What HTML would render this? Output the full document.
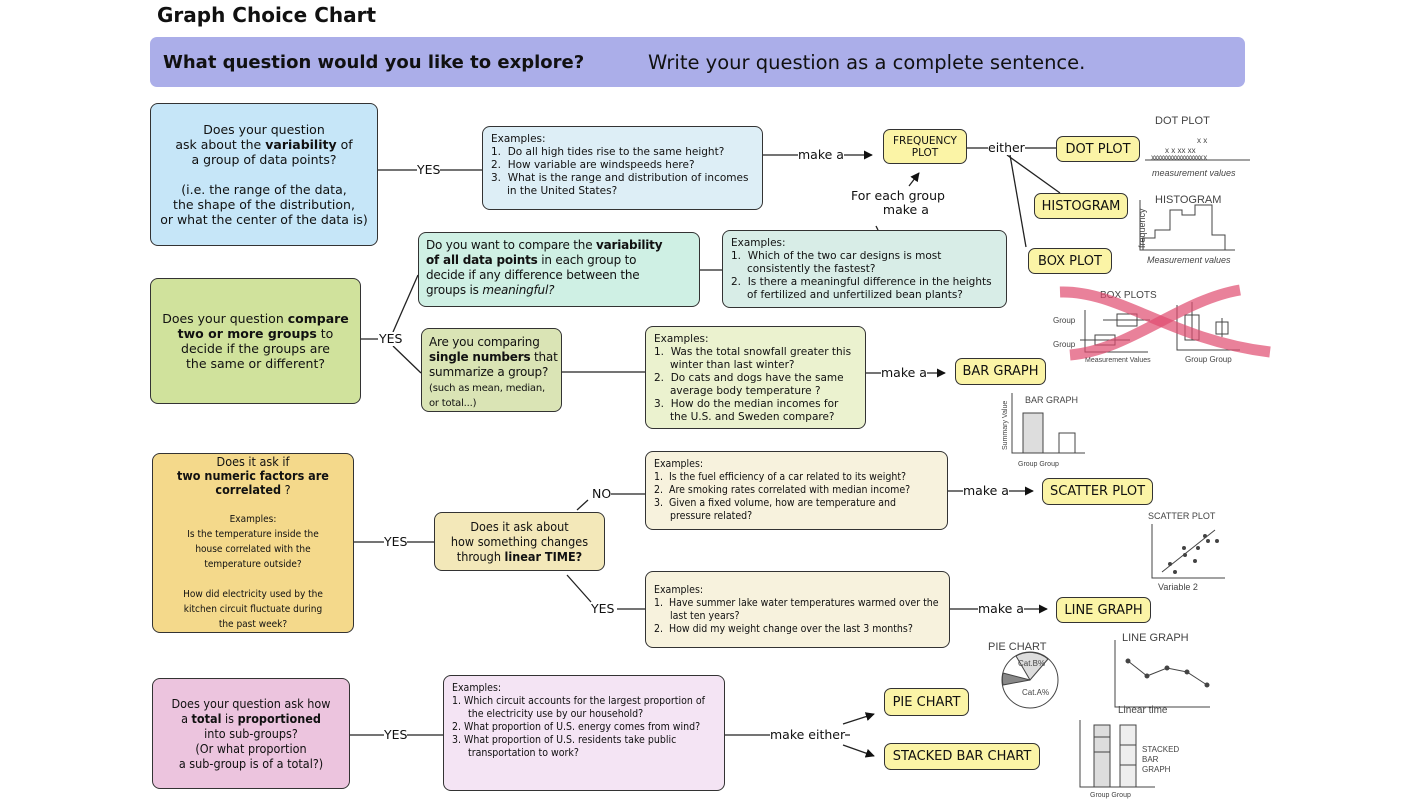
<!DOCTYPE html>
<html><head><meta charset="utf-8">
<style>
body{margin:0;width:1422px;height:800px;background:#fff;position:relative;overflow:hidden;font-family:"DejaVu Sans","Liberation Sans",sans-serif;color:#111}
.b{position:absolute;box-sizing:border-box;border:1.5px solid #333;border-radius:8px;font-size:12.5px;line-height:15px}
.c{text-align:center;display:flex;align-items:center;justify-content:center}
.c>div{width:100%;white-space:nowrap}
.ex{font-size:10.5px;line-height:13px;padding:6px 8px}
.ex div{padding-left:16px;text-indent:-16px}
.y{background:#fbf4a6;text-align:center;font-size:13px;display:flex;align-items:center;justify-content:center;border-radius:7px}
.cond{font-family:"DejaVu Sans Condensed","Liberation Sans Narrow","Liberation Sans",sans-serif}
.t{position:absolute;font-size:12.5px;white-space:nowrap;background:#fff;line-height:14px}
svg{position:absolute;left:0;top:0}
</style></head><body>
<svg width="1422" height="800" viewBox="0 0 1422 800" fill="none" stroke="#222" stroke-width="1.3">
<defs><marker id="a" viewBox="0 0 10 10" refX="9" refY="5" markerWidth="7" markerHeight="7" orient="auto"><path d="M0,0L10,5L0,10z" fill="#111" stroke="none"/></marker></defs>
<line x1="378" y1="170" x2="482" y2="170"/>
<line x1="763" y1="155" x2="872" y2="155" marker-end="url(#a)"/>
<line x1="967" y1="148" x2="1056" y2="148"/>
<line x1="1007" y1="155" x2="1060" y2="193"/>
<line x1="1010" y1="155" x2="1026" y2="247"/>
<line x1="909" y1="186" x2="919" y2="173" marker-end="url(#a)"/>
<line x1="878" y1="230" x2="876" y2="226"/>
<line x1="700" y1="270" x2="722" y2="270"/>
<line x1="361" y1="339" x2="378" y2="339"/>
<line x1="393" y1="332" x2="418" y2="275"/>
<line x1="393" y1="346" x2="421" y2="373"/>
<line x1="562" y1="372" x2="645" y2="372"/>
<line x1="866" y1="373" x2="945" y2="373" marker-end="url(#a)"/>
<line x1="354" y1="542" x2="434" y2="542"/>
<line x1="577" y1="510" x2="588" y2="500"/>
<line x1="610" y1="494" x2="645" y2="494"/>
<line x1="948" y1="491" x2="1033" y2="491" marker-end="url(#a)"/>
<line x1="567" y1="575" x2="591" y2="602"/>
<line x1="617" y1="609" x2="645" y2="609"/>
<line x1="950" y1="609" x2="1047" y2="609" marker-end="url(#a)"/>
<line x1="350" y1="735" x2="443" y2="735"/>
<line x1="725" y1="735" x2="850" y2="735"/>
<line x1="843" y1="724" x2="874" y2="714" marker-end="url(#a)"/>
<line x1="843" y1="745" x2="874" y2="756" marker-end="url(#a)"/>
<g stroke="#444" stroke-width="1" font-family="Liberation Sans,sans-serif">
<text x="1155" y="124" font-size="11" fill="#444" stroke="none">DOT PLOT</text>
<line x1="1145" y1="160" x2="1250" y2="160"/>
<text x="1151" y="160" font-size="8" fill="#444" stroke="none" letter-spacing="-1">xxxxxxxxxxxxxxxxx x</text>
<text x="1165" y="153" font-size="8" fill="#444" stroke="none">x  x xx xx</text>
<text x="1197" y="143" font-size="8" fill="#444" stroke="none">x x</text>
<text x="1152" y="176" font-size="9" fill="#444" stroke="none" font-style="italic">measurement values</text>
<text x="1155" y="203" font-size="11" fill="#444" stroke="none">HISTOGRAM</text>
<path d="M1140 200V250H1235M1143 250V238H1155V230H1170V210H1182V215H1195V205H1212V235H1225V250"/>
<text x="1147" y="263" font-size="9" fill="#444" stroke="none" font-style="italic">Measurement values</text>
<text transform="translate(1145,248) rotate(-90)" font-size="9" fill="#444" stroke="none">frequency</text>
<text x="1100" y="298" font-size="10" fill="#444" stroke="none">BOX PLOTS</text>
<path d="M1085 310V352H1148M1103 320H1150M1117 314h20v12h-20zM1080 340H1130M1095 335h20v10h-20z"/>
<path d="M1177 305V350H1240M1192 302V340M1185 315h14v25h-14zM1222 318V337M1216 322h12v12h-12z"/>
<text x="1053" y="323" font-size="8" fill="#444" stroke="none">Group</text>
<text x="1053" y="347" font-size="8" fill="#444" stroke="none">Group</text>
<text x="1085" y="362" font-size="7" fill="#444" stroke="none">Measurement Values</text>
<text x="1185" y="362" font-size="8" fill="#444" stroke="none">Group  Group</text>
<path d="M1060 292 C1120 290,1170 340,1270 352" stroke="#e04c6f" stroke-width="11" opacity="0.7"/>
<path d="M1070 355 C1130 350,1180 300,1240 290" stroke="#e04c6f" stroke-width="11" opacity="0.7"/>
<text x="1025" y="403" font-size="9" fill="#444" stroke="none">BAR GRAPH</text>
<path d="M1012 393V453H1085M1023 453V413H1043V453M1059 453V433H1075V453"/>
<rect x="1023" y="413" width="20" height="40" fill="#ddd"/>
<text x="1018" y="466" font-size="7" fill="#444" stroke="none">Group  Group</text>
<text transform="translate(1007,450) rotate(-90)" font-size="7" fill="#444" stroke="none">Summary Value</text>
<text x="1148" y="519" font-size="9" fill="#444" stroke="none">SCATTER PLOT</text>
<path d="M1152 524V578H1225M1162 572L1215 530"/>
<g fill="#444"><circle cx="1170" cy="564" r="1.5"/><circle cx="1175" cy="572" r="1.5"/><circle cx="1184" cy="548" r="1.5"/><circle cx="1185" cy="555" r="1.5"/><circle cx="1195" cy="561" r="1.5"/><circle cx="1198" cy="548" r="1.5"/><circle cx="1205" cy="536" r="1.5"/><circle cx="1208" cy="541" r="1.5"/><circle cx="1217" cy="541" r="1.5"/></g>
<text x="1158" y="590" font-size="9" fill="#444" stroke="none">Variable 2</text>
<text x="988" y="650" font-size="11" fill="#444" stroke="none">PIE CHART</text>
<circle cx="1030" cy="680" r="28" fill="#fff"/>
<path d="M1030 680L1048 659A28 28 0 0 0 1016 656z" fill="#ddd"/>
<path d="M1030 680L1003 673A28 28 0 0 0 1003 685z" fill="#888"/>
<text x="1018" y="666" font-size="8" fill="#444" stroke="none">Cat.B%</text>
<text x="1022" y="695" font-size="8" fill="#444" stroke="none">Cat.A%</text>
<text x="1122" y="641" font-size="11" fill="#444" stroke="none">LINE GRAPH</text>
<path d="M1115 640V707H1210M1128 661L1147 676L1167 668L1187 672L1207 685"/>
<g fill="#444"><circle cx="1128" cy="661" r="2"/><circle cx="1147" cy="676" r="2"/><circle cx="1167" cy="668" r="2"/><circle cx="1187" cy="672" r="2"/><circle cx="1207" cy="685" r="2"/></g>
<text x="1118" y="713" font-size="10" fill="#444" stroke="none">Linear time</text>
<path d="M1080 720V787H1155"/>
<rect x="1094" y="725" width="16" height="62" fill="#ddd"/><line x1="1094" y1="737" x2="1110" y2="737"/><line x1="1094" y1="752" x2="1110" y2="752"/>
<rect x="1120" y="725" width="16" height="62" fill="#eee"/><line x1="1120" y1="745" x2="1136" y2="745"/><line x1="1120" y1="765" x2="1136" y2="765"/>
<text x="1142" y="752" font-size="8" fill="#444" stroke="none">STACKED</text>
<text x="1142" y="762" font-size="8" fill="#444" stroke="none">BAR</text>
<text x="1142" y="772" font-size="8" fill="#444" stroke="none">GRAPH</text>
<text x="1090" y="797" font-size="7" fill="#444" stroke="none">Group  Group</text>
</g>
</svg>

<div style="position:absolute;left:157px;top:3px;font:bold 20px 'DejaVu Sans',sans-serif">Graph Choice Chart</div>
<div style="position:absolute;left:150px;top:37px;width:1095px;height:50px;background:#abaee9;border-radius:7px"></div>
<div style="position:absolute;left:163px;top:52px;font:bold 18px 'DejaVu Sans',sans-serif">What question would you like to explore?</div>
<div style="position:absolute;left:648px;top:51px;font:19.5px 'DejaVu Sans',sans-serif">Write your question as a complete sentence.</div>

<div class="b c" style="left:150px;top:103px;width:228px;height:143px;background:#c6e6f8;font-size:12.5px"><div>Does your question<br>ask about the <b>variability</b> of<br>a group of data points?<br><br>(i.e. the range of the data,<br>the shape of the distribution,<br>or what the center of the data is)</div></div>
<div class="t" style="left:417px;top:163px">YES</div>
<div class="b ex" style="left:482px;top:126px;width:281px;height:84px;background:#ddeef6">Examples:<div>1.&nbsp; Do all high tides rise to the same height?</div><div>2.&nbsp; How variable are windspeeds here?</div><div>3.&nbsp; What is the range and distribution of incomes in the United States?</div></div>
<div class="t" style="left:798px;top:148px">make a</div>
<div class="b y" style="left:883px;top:129px;width:84px;height:35px;font-size:10.5px;line-height:12px">FREQUENCY<br>PLOT</div>
<div class="t" style="left:988px;top:141px">either</div>
<div class="b y" style="left:1056px;top:136px;width:84px;height:26px">DOT PLOT</div>
<div class="b y" style="left:1034px;top:193px;width:94px;height:26px">HISTOGRAM</div>
<div class="b y" style="left:1028px;top:248px;width:84px;height:26px">BOX PLOT</div>
<div class="t" style="left:851px;top:189px;text-align:center;background:none">For each group<br>&nbsp;&nbsp;&nbsp;&nbsp;make a</div>

<div class="b c" style="left:150px;top:278px;width:211px;height:126px;background:#d0e29c;font-size:12.5px"><div>Does your question <b>compare</b><br><b>two or more groups</b> to<br>decide if the groups are<br>the same or different?</div></div>
<div class="t" style="left:379px;top:332px">YES</div>
<div class="b" style="left:418px;top:232px;width:282px;height:75px;background:#cff0e4;padding:5px 7px;font-size:12px;letter-spacing:-0.2px;white-space:nowrap">Do you want to compare the <b>variability</b><br><b>of all data points</b> in each group to<br>decide if any difference between the<br>groups is <i>meaningful?</i></div>
<div class="b ex" style="left:722px;top:230px;width:285px;height:78px;background:#d8ede7">Examples:<div>1.&nbsp; Which of the two car designs is most consistently the fastest?</div><div>2.&nbsp; Is there a meaningful difference in the heights of fertilized and unfertilized bean plants?</div></div>
<div class="b" style="left:421px;top:328px;width:141px;height:84px;background:#dae4b5;padding:6px 7px;font-size:12px;line-height:15px;letter-spacing:-0.2px;white-space:nowrap">Are you comparing<br><b>single numbers</b> that<br>summarize a group?<br><span style="font-size:10px;line-height:12px">(such as mean, median,<br>or total...)</span></div>
<div class="b ex" style="left:645px;top:326px;width:221px;height:103px;background:#ebf2cf">Examples:<div>1.&nbsp; Was the total snowfall greater this winter than last winter?</div><div>2.&nbsp; Do cats and dogs have the same average body temperature ?</div><div>3.&nbsp; How do the median incomes for the U.S. and Sweden compare?</div></div>
<div class="t" style="left:881px;top:366px">make a</div>
<div class="b y" style="left:955px;top:358px;width:91px;height:27px">BAR GRAPH</div>

<div class="b c cond" style="left:152px;top:453px;width:202px;height:180px;background:#f4d98b;font-size:12.5px;line-height:14px"><div>Does it ask if<br><b>two numeric factors are<br>correlated</b> ?<br><br><span style="font-size:10px;line-height:12px">Examples:<br>Is the temperature inside the<br>house correlated with the<br>temperature outside?<br><br>How did electricity used by the<br>kitchen circuit fluctuate during<br>the past week?</span></div></div>
<div class="t" style="left:384px;top:535px">YES</div>
<div class="b c cond" style="left:434px;top:512px;width:171px;height:59px;background:#f3e8b9;font-size:12.5px"><div>Does it ask about<br>how something changes<br>through <b>linear TIME?</b></div></div>
<div class="t" style="left:592px;top:487px">NO</div>
<div class="b ex cond" style="left:645px;top:451px;width:303px;height:79px;background:#f7f2dd;font-size:10.5px">Examples:<div>1.&nbsp; Is the fuel efficiency of a car related to its weight?</div><div>2.&nbsp; Are smoking rates correlated with median income?</div><div>3.&nbsp; Given a fixed volume, how are temperature and pressure related?</div></div>
<div class="t" style="left:963px;top:484px">make a</div>
<div class="b y" style="left:1042px;top:478px;width:111px;height:27px">SCATTER PLOT</div>
<div class="t" style="left:591px;top:602px">YES</div>
<div class="b ex cond" style="left:645px;top:571px;width:305px;height:77px;background:#f7f2dd;font-size:10.5px;padding-top:12px">Examples:<div>1.&nbsp; Have summer lake water temperatures warmed over the last ten years?</div><div>2.&nbsp; How did my weight change over the last 3 months?</div></div>
<div class="t" style="left:978px;top:602px">make a</div>
<div class="b y" style="left:1056px;top:597px;width:95px;height:26px">LINE GRAPH</div>

<div class="b c cond" style="left:152px;top:678px;width:198px;height:111px;background:#ecc4de;font-size:12.5px"><div>Does your question ask how<br>a <b>total</b> is <b>proportioned</b><br>into sub-groups?<br>(Or what proportion<br>a sub-group is of a total?)</div></div>
<div class="t" style="left:384px;top:728px">YES</div>
<div class="b ex cond" style="left:443px;top:675px;width:282px;height:116px;background:#f4e4f4;font-size:10.5px">Examples:<div>1. Which circuit accounts for the largest proportion of the electricity use by our household?</div><div>2. What proportion of U.S. energy comes from wind?</div><div>3. What proportion of U.S. residents take public transportation to work?</div></div>
<div class="t" style="left:770px;top:728px">make either</div>
<div class="b y" style="left:884px;top:688px;width:85px;height:28px">PIE CHART</div>
<div class="b y" style="left:884px;top:743px;width:156px;height:27px">STACKED BAR CHART</div>
</body></html>
